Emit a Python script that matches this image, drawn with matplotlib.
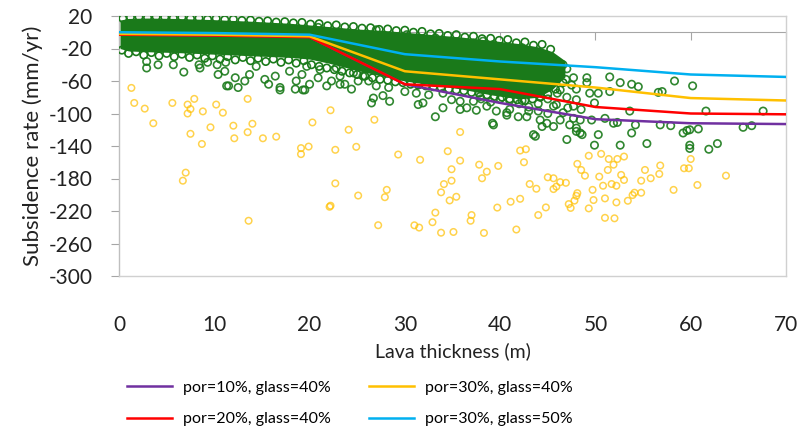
import matplotlib
matplotlib.use('Agg')

import matplotlib.pyplot as plt

plt.rcParams['font.family'] = ['Lato', 'DejaVu Sans']
plt.rcParams['axes.unicode_minus'] = False

# -------------------------
# Model curves
# -------------------------
thick = [0, 10, 20, 30, 40, 50, 60, 70]
por10_g40 = [-3, -4, -6, -64, -87, -107, -112, -113]
por20_g40 = [-3, -4, -6, -64, -70, -92, -100, -101]
por30_g40 = [-2, -3, -5, -48, -58, -68, -81, -84]
por30_g50 = [0, -1, -3, -27, -36, -43, -52, -55]

# -------------------------
# Observed points (green): dense core envelope, its edge, scattered points
# -------------------------
core_x = [0.1, 1, 3, 6, 10, 14, 18, 20, 22, 25, 28, 30, 33, 36, 39, 42, 44, 45.5, 46.8]
core_top = [15, 17, 17.5, 17, 15.5, 13.5, 11, 9, 7, 4, 2, 0, -3, -6, -10, -14, -18, -24, -35]
core_bot = [-20, -23, -24, -25, -27, -29, -31, -33, -38, -47, -55, -60, -65, -70, -77, -82, -80, -70, -55]

edge_top_x = [0.4, 1.2, 2.1, 3.0, 3.9, 4.8, 5.7, 6.6, 7.5, 8.4, 9.3, 10.2, 11.1, 12, 12.9, 13.8,
              14.7, 15.6, 16.5, 17.4, 18.3, 19.2, 20.1, 21, 21.9, 22.8, 23.7, 24.6, 25.5, 26.4,
              27.3, 28.2, 29.1, 30, 30.9, 31.8, 32.7, 33.6, 34.5, 35.4, 36.3, 37.2, 38.1, 39,
              39.9, 40.8, 41.7, 42.6, 43.5, 44.4, 45.3]
edge_top_y = [17, 18.5, 19, 18, 19, 18.5, 17.5, 18.5, 17, 17.5, 16, 17, 15.5, 16, 14.5, 15,
              13.5, 14, 12.5, 13, 11.5, 12, 10, 10.5, 8, 9, 6.5, 7, 5, 5.5, 3.5, 4, 2, 2.5, 0,
              1, -2, -1.5, -4, -3, -6, -5, -8, -7.5, -10, -9, -13, -12, -16, -15, -21]

edge_bot_x = [0.3, 1.0, 1.8, 2.6, 3.4, 4.2, 5.0, 5.8, 6.6, 7.4, 8.2, 9.0, 9.8, 10.6, 11.4, 12.2,
              13.0, 13.8, 14.6, 15.4, 16.2, 17.0, 17.8, 18.6, 19.4, 20.2, 21, 21.8, 22.6, 23.4,
              24.2, 25, 25.8, 26.6, 27.4, 28.2, 29, 29.8, 30.6, 31.4, 32.2, 33, 33.8, 34.6,
              35.4, 36.2, 37, 37.8, 38.6, 39.4, 40.2, 41, 41.8, 42.6, 43.4, 44.2, 45, 45.8, 46.6]
edge_bot_y = [-22, -26, -24, -28, -25, -29, -26, -30, -27, -31, -28, -32, -29, -33, -30, -34,
              -31, -35, -32, -36, -33, -37, -34, -38, -35, -40, -42, -44, -46, -48, -50, -52,
              -54, -56, -58, -59, -61, -62, -64, -65, -66, -67, -68, -70, -71, -72, -74, -75,
              -77, -79, -80, -82, -83, -84, -82, -80, -76, -70, -62]

obs_x = [
    2.9, 2.9, 4.1, 5.7, 6.8, 8.4, 8.5, 9.3, 10.3, 10.4, 11.1, 11.2, 11.5, 12.2, 12.5, 13.2, 13.7,
    14.4, 15.3, 15.7, 16.4, 16.9, 17.9, 18.6, 19.2, 19.7, 16.9, 18.5, 19.5, 11.3,
    20, 21.8, 23.2, 24.4, 26.5, 26.7, 27.7, 28.4, 30, 19.3, 20.9, 22.3, 23.2, 23.7, 25.1, 26.2,
    27, 28.3, 21.1, 22.8, 24.6, 25.6,
    31.4, 31.9, 33.2, 34, 35.8, 37.5, 39.2, 39.6, 40.7, 34, 34.9, 35.8, 36.5, 37.2, 38.6, 37.9,
    31.2, 32.5, 39.3, 40.7,
    38.2, 39.3, 42.3, 41, 42.9, 44.9, 46.6, 47.7, 46.9, 46.3, 37.2, 33.2, 36.1, 27, 30.2, 20.9,
    42.3, 44.2, 45.9, 45.6, 47.1, 48, 44, 42.8, 41.9, 44.2, 44.9, 46.3, 47.3, 48.4, 49.6, 44.4,
    48, 45.6, 46.6, 47.7, 48, 43.5, 43.7, 47, 48.4, 48.6, 50.3, 49.9, 47.7,
    49.1, 49.1, 51.5, 52.6, 53.8, 54.5, 49.4, 50.3, 51.5, 49.9, 51, 51.9, 52.3, 53.6, 53.8, 54.2,
    52.6, 55.4,
    58.3, 60.2, 56.6, 57, 61.6, 67.6, 56.8, 57.9, 59.2, 59.6, 59.9, 60.8, 59.9, 59.9, 61.9, 62.8,
    65.5, 66.4,
    40, 41, 42, 43, 44, 45, 46, 47, 47.5, 46, 45, 44, 43, 42, 41, 40, 39, 38, 47, 48, 48.5, 45,
    43, 41,
]
obs_y = [
    -36, -44, -40, -40, -49, -40, -44, -37, -40, -52, -48, -37, -66, -56, -68, -60, -52,
    -42, -58, -64, -54, -68, -48, -60, -52, -42, -71, -70, -71, -66,
    -64, -66, -64, -70, -87, -81, -78, -85, -73, -71, -56, -60, -54, -64, -60, -60,
    -66, -68, -46, -44, -50, -54,
    -89, -87, -104, -93, -95, -96, -112, -97, -99, -75, -83, -85, -93, -85, -91, -79,
    -75, -77, -114, -102,
    -11, -15, -19, -29, -38, -40, -40, -56, -58, -71, -13, -7, -21, 3, -3, 6,
    -84, -79, -89, -91, -93, -83, -97, -104, -104, -108, -112, -108, -114, -108, -108, -116,
    -118, -116, -99, -91, -122, -126, -128, -132, -124, -126, -126, -139, -106,
    -56, -62, -55, -62, -64, -67, -75, -75, -73, -87, -106, -112, -111, -97, -124, -114,
    -139, -137,
    -60, -66, -74, -73, -97, -97, -114, -115, -124, -121, -120, -119, -139, -143, -144, -137,
    -117, -115,
    -20, -25, -30, -35, -28, -45, -50, -45, -65, -75, -82, -88, -92, -88, -84, -82, -86, -82,
    -80, -70, -95, -100, -97, -95,
]

# -------------------------
# Observed points (yellow)
# -------------------------
yel_x = [
    1.3, 1.6, 2.7, 3.6, 5.6, 7.2, 7.5, 7.2, 7.9, 8.8, 7.5, 8.7, 9.6, 10.2, 10.9, 12, 12.1, 13.5,
    13.5, 14, 15.1, 16.5, 7, 6.7, 13.6,
    19.1, 19.1, 19.9, 20.3, 22.2, 22.7, 22.7, 22.1, 22.2, 24.1, 24.9, 25.1, 26.8, 27.2, 27.9,
    28.1, 29.3, 31, 31.5, 31.6, 32.9, 33.2, 33.8, 33.8, 34.1, 34.5, 34.7, 34.9, 34.9, 35.1,
    35.4, 35.8, 35.8, 36.9, 37, 37.8, 38.1, 38.3, 38.6, 39.7, 39.8, 41.1, 41.7, 42.1, 42.7,
    42.5, 42.1, 43.1, 43.8, 44, 44.8, 45, 45.6, 45.9, 45.6, 46.3, 46.9, 48.1, 48, 48.1, 47.8,
    47.2, 47.4, 48.5, 48.9, 49.3, 50.6, 51.4, 52.3, 53, 51.9, 51.3, 52.7, 53, 50.4, 51.7, 52.2,
    50.8, 49.7, 49.8, 51, 52.2, 49.3, 51, 52, 53.4, 53.9, 54.1, 54.8, 54.8, 55.2, 55.8, 56.7,
    56.8, 58.2, 59.3, 59.8, 60, 60.7, 63.7,
]
yel_y = [
    -68.5, -87, -94, -112, -87, -89, -94.5, -100, -82, -97.4, -125, -137.5, -117, -89, -99, -115,
    -130.5, -82, -123, -112.6, -130.5, -128.5, -172.8, -182.7, -232,
    -142.6, -150, -140.7, -111, -96, -144.7, -186, -214.8, -213.5, -120, -141, -201, -107.7,
    -237.5, -203, -194, -150.5, -237.6, -240.4, -157, -233.8, -222, -246.7, -197, -186.9,
    -146.4, -207, -168.6, -182.7, -245.8, -202.5, -122.8, -158, -232, -225, -163, -179.7, -247,
    -171.6, -215.8, -164.5, -208.6, -242.8, -145.6, -144, -160, -205, -186.8, -192.6, -225,
    -215.6, -178.5, -179.7, -190, -193, -184.5, -185.3, -162, -201.3, -198, -207.2, -211.5,
    -216.2, -169.5, -176.5, -152, -149.7, -156, -156, -153, -163, -169.5, -175.6, -181.8,
    -177.7, -186.8, -188.9, -188.9, -194, -206.5, -204.5, -209.4, -216.8, -228.4, -229, -207.4,
    -200.4, -197.5, -197.5, -182.7, -169.5, -179.7, -174.4, -164, -194, -167.4, -167.4, -156,
    -188, -176.5,
]

xticks = [0, 10, 20, 30, 40, 50, 60, 70]
yticks = [20, -20, -60, -100, -140, -180, -220, -260, -300]

# -------------------------
# Plot
# -------------------------
fig = plt.figure(figsize=(8.05, 4.34), dpi=100)
ax = fig.add_axes([119 / 805, 1 - 276 / 434, (786 - 119) / 805, (276 - 16) / 434])

green = '#1a7a1a'
ring = dict(s=28, facecolors='none', edgecolors=green, linewidths=1.2, zorder=3)
ax.fill_between(core_x, core_bot, core_top, color=green, lw=0, zorder=2)
ax.scatter(edge_top_x, edge_top_y, **ring)
ax.scatter(edge_bot_x, edge_bot_y, **ring)
ax.scatter(obs_x, obs_y, alpha=0.9, **ring)
ax.scatter(yel_x, yel_y, s=22, facecolors='none', edgecolors='#FFC000', linewidths=1.1,
           alpha=0.7, zorder=3)

ax.plot(thick, por10_g40, color='#7030A0', lw=1.8, label='por=10%, glass=40%', zorder=4)
ax.plot(thick, por20_g40, color='#FF0000', lw=1.8, label='por=20%, glass=40%', zorder=4)
ax.plot(thick, por30_g40, color='#FFC000', lw=1.8, label='por=30%, glass=40%', zorder=4)
ax.plot(thick, por30_g50, color='#00B0F0', lw=1.8, label='por=30%, glass=50%', zorder=4)

ax.set_xlim(0, 70)
ax.set_ylim(-300, 20)
ax.set_xticks(xticks)
ax.set_yticks(yticks)

for sp in ax.spines.values():
    sp.set_color('#D0D0D0')
    sp.set_linewidth(1.0)
ax.spines['left'].set_color('#BFBFBF')

ax.tick_params(axis='x', length=0, pad=28, labelsize=15, labelcolor='#222222')
ax.tick_params(axis='y', direction='out', length=6, color='#A6A6A6', pad=13,
               labelsize=15, labelcolor='#222222')

# horizontal axis at zero with downward ticks
sec = ax.secondary_xaxis(300 / 320)
sec.set_xticks(xticks)
sec.tick_params(direction='in', length=6, color='#A6A6A6', labeltop=False, labelbottom=False)
for sp in sec.spines.values():
    sp.set_color('#A6A6A6')

ax.set_xlabel('Lava thickness (m)', fontsize=14, labelpad=5, color='#222222')
ax.set_ylabel('Subsidence rate (mm/yr)', fontsize=16, labelpad=4, color='#222222')

fig.legend(loc='upper left', bbox_to_anchor=(0.14, 1 - 366 / 434), ncol=2, frameon=False,
           fontsize=11.5, handlelength=2.8, columnspacing=2.4, labelspacing=1.1,
           handletextpad=0.7)

plt.savefig('out.png', dpi=100)
